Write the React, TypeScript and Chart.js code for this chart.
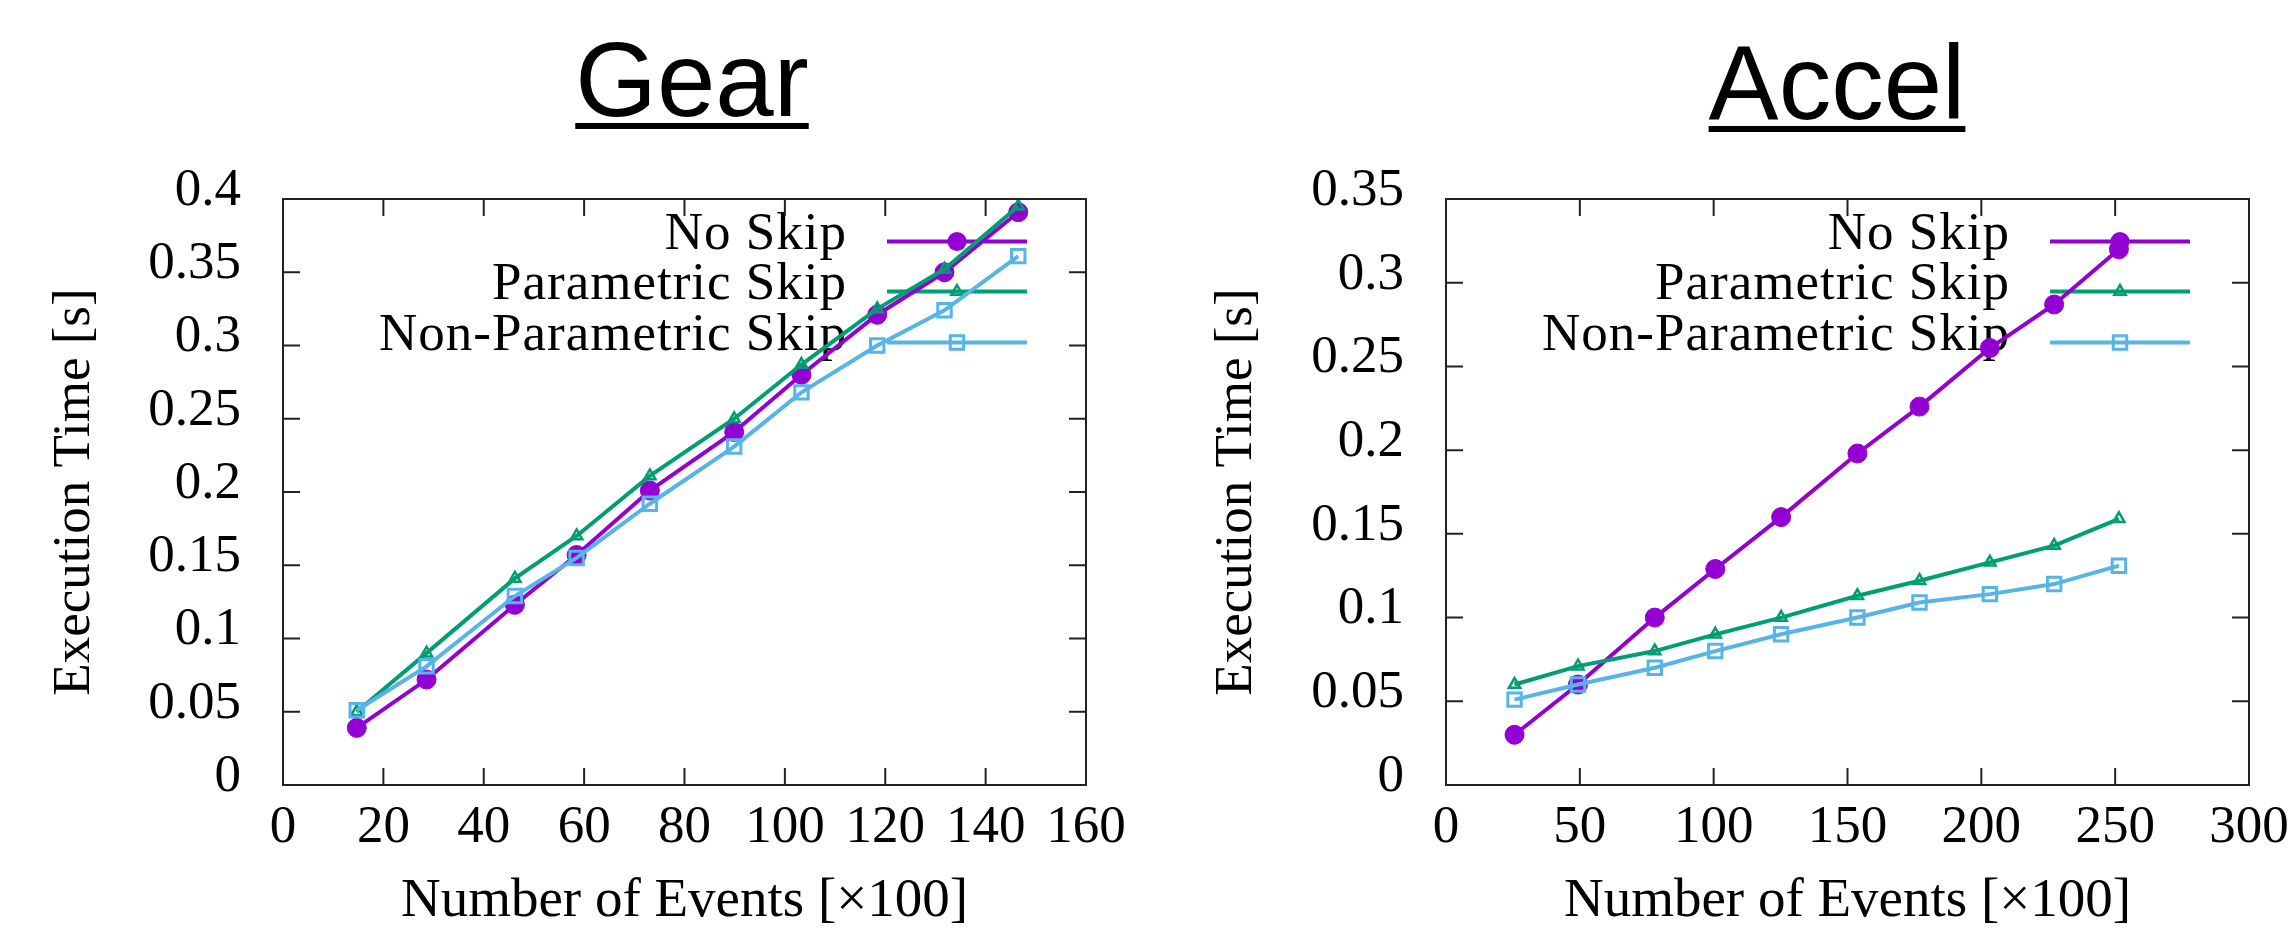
import React, { useEffect, useRef } from 'react';
import { Chart, registerables } from 'chart.js';

Chart.register(...registerables);

// ---------- data ----------
const SERIES_NAMES = ['No Skip', 'Parametric Skip', 'Non-Parametric Skip'];
const SERIES_COLORS = ['#9400d3', '#009e73', '#56b4e9'];

const GEAR_X = [14.7, 28.6, 46.2, 58.5, 73.1, 89.9, 103.3, 118.4, 131.8, 146.5];
const GEAR_NO_SKIP = [0.039, 0.072, 0.123, 0.157, 0.201, 0.241, 0.28, 0.321, 0.35, 0.391];
const GEAR_PARAM = [0.05, 0.09, 0.141, 0.17, 0.211, 0.25, 0.287, 0.325, 0.352, 0.395];
const GEAR_NONPARAM = [0.051, 0.081, 0.129, 0.155, 0.192, 0.231, 0.268, 0.3, 0.324, 0.361];
const GEAR_X_TICKS = [0, 20, 40, 60, 80, 100, 120, 140, 160];
const GEAR_Y_TICKS = [0, 0.05, 0.1, 0.15, 0.2, 0.25, 0.3, 0.35, 0.4];

const ACCEL_X = [25.6, 49.3, 78, 100.6, 125.2, 153.7, 176.9, 203.2, 227.2, 251.4];
const ACCEL_NO_SKIP = [0.03, 0.06, 0.1, 0.129, 0.16, 0.198, 0.226, 0.261, 0.287, 0.32];
const ACCEL_PARAM = [0.06, 0.071, 0.08, 0.09, 0.1, 0.113, 0.122, 0.133, 0.143, 0.159];
const ACCEL_NONPARAM = [0.051, 0.06, 0.07, 0.08, 0.09, 0.1, 0.109, 0.114, 0.12, 0.131];
const ACCEL_X_TICKS = [0, 50, 100, 150, 200, 250, 300];
const ACCEL_Y_TICKS = [0, 0.05, 0.1, 0.15, 0.2, 0.25, 0.3, 0.35];

const X_LABEL = 'Number of Events [×100]';
const Y_LABEL = 'Execution Time [s]';

// ---------- style ----------
const SERIF = '"Liberation Serif", "Times New Roman", serif';
const SANS = '"Liberation Sans", Arial, sans-serif';
const FS = 53;
const H = 937;
const LINE_W = 4;

function drawMarker(ctx: CanvasRenderingContext2D, style: string, x: number, y: number, r: number, color: string, bw: number) {
  ctx.save();
  ctx.strokeStyle = color;
  ctx.fillStyle = color;
  ctx.lineWidth = bw;
  ctx.beginPath();
  if (style === 'circle') {
    ctx.arc(x, y, r, 0, Math.PI * 2);
    ctx.fill();
  } else if (style === 'triangle') {
    let a = 0;
    ctx.moveTo(x + Math.sin(a) * r, y - Math.cos(a) * r);
    a += (2 * Math.PI) / 3;
    ctx.lineTo(x + Math.sin(a) * r, y - Math.cos(a) * r);
    a += (2 * Math.PI) / 3;
    ctx.lineTo(x + Math.sin(a) * r, y - Math.cos(a) * r);
    ctx.closePath();
    ctx.stroke();
  } else {
    const s = Math.SQRT1_2 * r;
    ctx.rect(x - s, y - s, 2 * s, 2 * s);
    ctx.stroke();
  }
  ctx.restore();
}

const gnuplotPlugin = {
  id: 'gnuplot',
  beforeDatasetsDraw(chart: any) {
    const { ctx, chartArea: a } = chart;
    ctx.save();
    ctx.font = `${FS}px ${SERIF}`;
    (ctx as any).letterSpacing = '1px';
    ctx.textAlign = 'right';
    ctx.textBaseline = 'alphabetic';
    const rows = [42.5, 92.5, 143.5];
    chart.data.datasets.forEach((ds: any, i: number) => {
      const y = a.top + rows[i];
      ctx.fillStyle = '#000';
      ctx.fillText(ds.label, a.right - 239, y + 7.5);
      ctx.strokeStyle = ds.borderColor;
      ctx.lineWidth = LINE_W;
      ctx.beginPath();
      ctx.moveTo(a.right - 199, y);
      ctx.lineTo(a.right - 59, y);
      ctx.stroke();
      drawMarker(ctx, ds.pointStyle, a.right - 129, y, ds.pointRadius, ds.borderColor, ds.pointBorderWidth);
    });
    ctx.restore();
  },
  afterDraw(chart: any, _args: any, opts: any) {
    const { ctx, chartArea: a, scales } = chart;
    ctx.save();
    ctx.strokeStyle = '#222';
    ctx.lineWidth = 2;
    ctx.strokeRect(a.left, a.top, a.right - a.left, a.bottom - a.top);
    const TL = 17;
    ctx.beginPath();
    scales.x.ticks.forEach((t: any) => {
      const px = scales.x.getPixelForValue(t.value);
      ctx.moveTo(px, a.bottom);
      ctx.lineTo(px, a.bottom - TL);
      ctx.moveTo(px, a.top);
      ctx.lineTo(px, a.top + TL);
    });
    scales.y.ticks.forEach((t: any) => {
      const py = scales.y.getPixelForValue(t.value);
      ctx.moveTo(a.left, py);
      ctx.lineTo(a.left + TL, py);
      ctx.moveTo(a.right, py);
      ctx.lineTo(a.right - TL, py);
    });
    ctx.stroke();
    ctx.fillStyle = '#000';
    ctx.font = `105px ${SANS}`;
    ctx.textAlign = 'center';
    ctx.textBaseline = 'alphabetic';
    ctx.fillText(opts.title, opts.titleX, opts.titleY);
    const w = ctx.measureText(opts.title).width;
    ctx.fillRect(opts.titleX - w / 2, opts.titleY + 7, w, 6);
    ctx.restore();
  },
};

type PanelSpec = {
  title: string;
  titleY: number;
  xs: number[];
  series: number[][];
  xTicks: number[];
  yTicks: number[];
  yAxisWidth: number;
  yTitlePad: number;
  padRight: number;
};

const STYLES = ['circle', 'triangle', 'rect'];
const RADII = [9.5, 6.5, 9.5];
const BWS = [1, 2.5, 3];

function buildConfig(p: PanelSpec): any {
  const datasets = p.series.map((vals, i) => ({
    label: SERIES_NAMES[i],
    data: p.xs.map((x, j) => ({ x, y: vals[j] })),
    borderColor: SERIES_COLORS[i],
    backgroundColor: SERIES_COLORS[i],
    pointStyle: STYLES[i],
    pointRadius: RADII[i],
    pointBorderWidth: BWS[i],
    pointBorderColor: SERIES_COLORS[i],
    pointBackgroundColor: i === 0 ? SERIES_COLORS[i] : 'rgba(0,0,0,0)',
    borderWidth: LINE_W,
    tension: 0,
    fill: false,
    clip: false,
    order: 3 - i,
  }));
  const tickFont = { family: SERIF, size: FS };
  return {
    type: 'line',
    data: { datasets },
    plugins: [gnuplotPlugin],
    options: {
      responsive: false,
      animation: false,
      devicePixelRatio: 1,
      layout: { padding: { top: 199, right: p.padRight, bottom: 0, left: 0 } },
      plugins: {
        legend: { display: false },
        tooltip: { enabled: false },
        title: { display: false },
        gnuplot: { title: p.title, titleX: 692, titleY: p.titleY },
      },
      scales: {
        x: {
          type: 'linear',
          min: p.xTicks[0],
          max: p.xTicks[p.xTicks.length - 1],
          afterBuildTicks: (s: any) => {
            s.ticks = p.xTicks.map((v) => ({ value: v }));
          },
          afterFit: (s: any) => {
            s.height = H - 785;
            s.paddingLeft = 0;
            s.paddingRight = 0;
          },
          grid: { display: false, drawTicks: false },
          border: { display: false },
          ticks: {
            autoSkip: false,
            maxRotation: 0,
            padding: 11,
            color: '#000',
            font: tickFont,
            callback: (v: any) => String(v),
          },
          title: {
            display: true,
            text: X_LABEL,
            color: '#000',
            font: { family: SERIF, size: 55 },
            padding: { top: 0, bottom: 2 },
          },
        },
        y: {
          type: 'linear',
          min: p.yTicks[0],
          max: p.yTicks[p.yTicks.length - 1],
          afterBuildTicks: (s: any) => {
            s.ticks = p.yTicks.map((v) => ({ value: v }));
          },
          afterFit: (s: any) => {
            s.width = p.yAxisWidth;
            s.paddingTop = 0;
            s.paddingBottom = 0;
          },
          grid: { display: false, drawTicks: false },
          border: { display: false },
          ticks: {
            autoSkip: false,
            padding: 42,
            labelOffset: -8,
            color: '#000',
            font: tickFont,
            callback: (v: any) => String(v),
          },
          title: {
            display: true,
            text: Y_LABEL,
            color: '#000',
            font: { family: SERIF, size: FS },
            padding: { top: p.yTitlePad, bottom: 0 },
          },
        },
      },
    },
  };
}

const GEAR_SPEC: PanelSpec = {
  title: 'Gear',
  titleY: 116,
  xs: GEAR_X,
  series: [GEAR_NO_SKIP, GEAR_PARAM, GEAR_NONPARAM],
  xTicks: GEAR_X_TICKS,
  yTicks: GEAR_Y_TICKS,
  yAxisWidth: 283,
  yTitlePad: 43,
  padRight: 59,
};

const ACCEL_SPEC: PanelSpec = {
  title: 'Accel',
  titleY: 119,
  xs: ACCEL_X,
  series: [ACCEL_NO_SKIP, ACCEL_PARAM, ACCEL_NONPARAM],
  xTicks: ACCEL_X_TICKS,
  yTicks: ACCEL_Y_TICKS,
  yAxisWidth: 301,
  yTitlePad: 60,
  padRight: 40,
};

function Panel({ spec, left, width }: { spec: PanelSpec; left: number; width: number }) {
  const ref = useRef<HTMLCanvasElement>(null);
  useEffect(() => {
    const chart = new Chart(ref.current as HTMLCanvasElement, buildConfig(spec));
    return () => chart.destroy();
  }, [spec]);
  return (
    <canvas
      ref={ref}
      width={width}
      height={H}
      style={{ position: 'absolute', left, top: 0, width, height: H, display: 'block' }}
    />
  );
}

export default function App() {
  return (
    <div style={{ position: 'absolute', left: 0, top: 0, width: 2289, height: H, background: '#fff', overflow: 'hidden' }}>
      <Panel spec={GEAR_SPEC} left={0} width={1145} />
      <Panel spec={ACCEL_SPEC} left={1145} width={1144} />
    </div>
  );
}
